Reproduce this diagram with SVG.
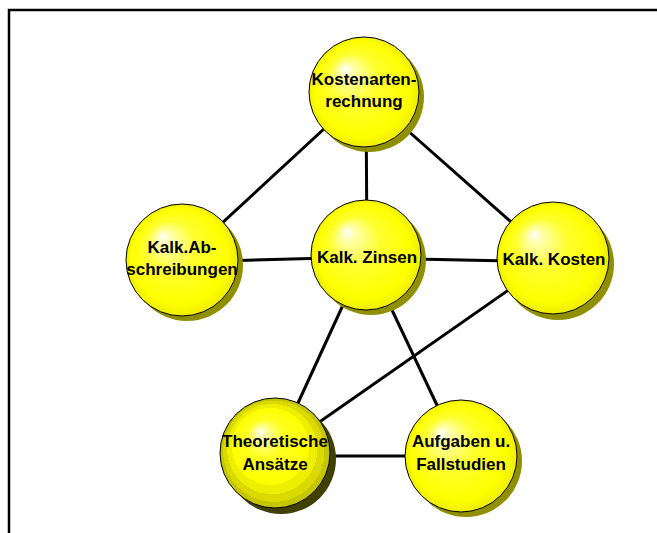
<svg xmlns="http://www.w3.org/2000/svg" width="657" height="533" viewBox="0 0 657 533">
<style>
.frame{fill:none;stroke:#000;stroke-width:2.5}
.edge{stroke:#000;stroke-width:3;fill:none}
.shadow{fill:#8f8f00}
.shadow2{fill:#404000}
.ball{fill:url(#g1);stroke:#000;stroke-width:1}
.ball2{fill:url(#g2);stroke:#000;stroke-width:1}
text{font-family:"Liberation Sans",Arial,sans-serif;font-weight:bold;font-size:17px;fill:#000;text-anchor:middle}
</style>
<defs>
<radialGradient id="g1" cx="0.5" cy="0.5" r="0.5" fx="0.32" fy="0.28">
<stop offset="0" stop-color="#ffffff"/>
<stop offset="0.12" stop-color="#ffffb0"/>
<stop offset="0.45" stop-color="#ffff30"/>
<stop offset="0.85" stop-color="#ffff00"/>
<stop offset="1" stop-color="#eeee00"/>
</radialGradient>
<radialGradient id="g2" cx="0.5" cy="0.5" r="0.5" fx="0.36" fy="0.3">
<stop offset="0" stop-color="#ffffff"/>
<stop offset="0.1" stop-color="#ffffa0"/>
<stop offset="0.35" stop-color="#ffff20"/>
<stop offset="0.7" stop-color="#ffff00"/>
<stop offset="0.7" stop-color="#eeee00"/>
<stop offset="0.82" stop-color="#eeee00"/>
<stop offset="0.82" stop-color="#dada00"/>
<stop offset="0.92" stop-color="#dada00"/>
<stop offset="0.92" stop-color="#c6c600"/>
<stop offset="1" stop-color="#c6c600"/>
</radialGradient>
</defs>
<path class="frame" d="M9,533 V10 H657"/>
<g id="connectors">
<line class="edge" x1="364" y1="92" x2="182" y2="260"/>
<line class="edge" x1="366" y1="92" x2="367" y2="255"/>
<line class="edge" x1="364" y1="92" x2="553" y2="259"/>
<line class="edge" x1="182" y1="262" x2="366" y2="257"/>
<line class="edge" x1="366" y1="258" x2="553" y2="262"/>
<line class="edge" x1="366" y1="255" x2="275" y2="453"/>
<line class="edge" x1="366" y1="255" x2="461" y2="456"/>
<line class="edge" x1="553" y1="259" x2="275" y2="453"/>
<line class="edge" x1="275" y1="456" x2="461" y2="456"/>
</g>
<g id="kostenartenrechnung">
<circle class="shadow" cx="369" cy="97" r="55"/>
<circle class="ball" cx="364" cy="92" r="55"/>
<text x="364" y="85">Kostenarten-</text>
<text x="364" y="107">rechnung</text>
</g>
<g id="abschreibungen">
<circle class="shadow" cx="187" cy="265" r="56"/>
<circle class="ball" cx="182" cy="260" r="56"/>
<text x="182" y="253">Kalk.Ab-</text>
<text x="182" y="275">schreibungen</text>
</g>
<g id="zinsen">
<circle class="shadow" cx="371" cy="260" r="55"/>
<circle class="ball" cx="366" cy="255" r="55"/>
<text x="367" y="263">Kalk. Zinsen</text>
</g>
<g id="kosten">
<circle class="shadow" cx="558" cy="264" r="56"/>
<circle class="ball" cx="553" cy="258" r="56"/>
<text x="554" y="265">Kalk. Kosten</text>
</g>
<g id="theoretische">
<circle class="shadow2" cx="281" cy="459" r="55"/>
<circle class="ball2" cx="275" cy="453" r="55"/>
<text x="275" y="447">Theoretische</text>
<text x="275" y="470">Ansätze</text>
</g>
<g id="aufgaben">
<circle class="shadow" cx="466" cy="461" r="56"/>
<circle class="ball" cx="461" cy="456" r="56"/>
<text x="461" y="447">Aufgaben u.</text>
<text x="461" y="470">Fallstudien</text>
</g>
</svg>
